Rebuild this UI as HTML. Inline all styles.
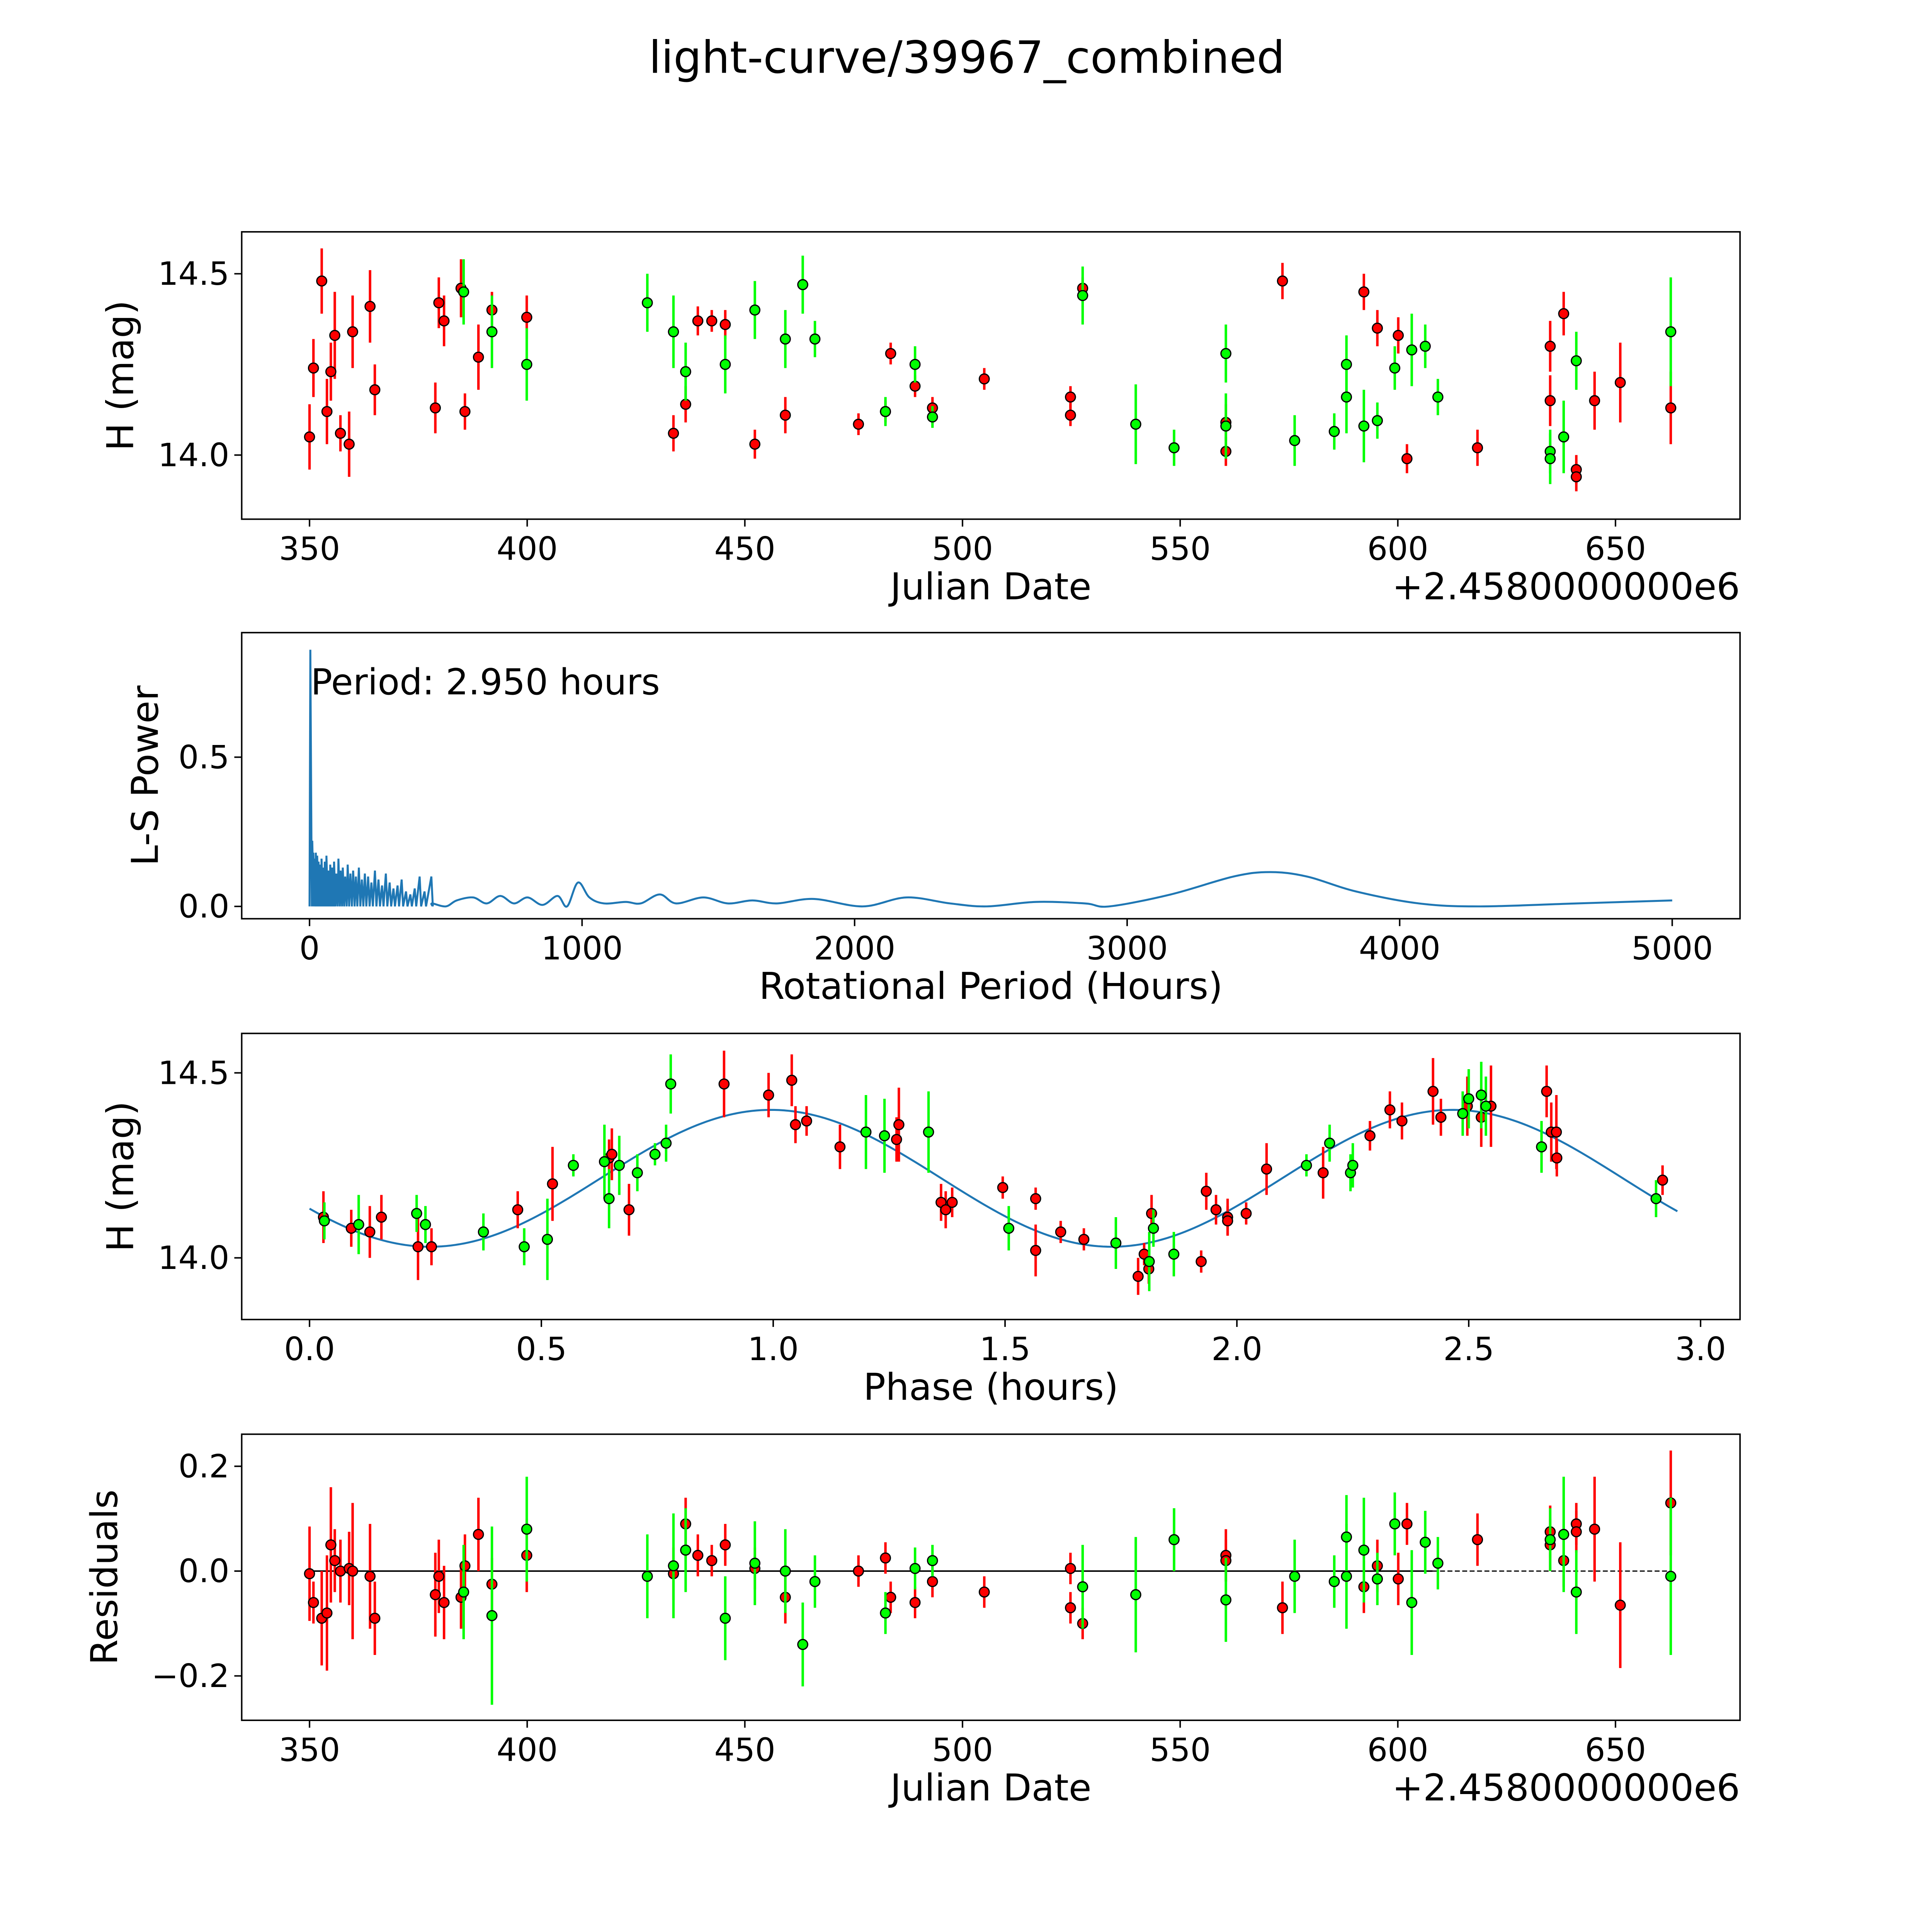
<!DOCTYPE html>
<html><head><meta charset="utf-8"><style>
html,body{margin:0;padding:0;background:#fff;overflow:hidden;width:5400px;height:5400px}
svg{display:block}
text{font-family:"DejaVu Sans","Liberation Sans",sans-serif;fill:#000}
</style></head><body>
<svg id="fig" xmlns="http://www.w3.org/2000/svg" width="5400" height="5400" viewBox="0 0 1692 1692">
<rect width="1692" height="1692" fill="#fff"/>
<text x="784" y="59" font-size="36" text-anchor="middle">light-curve/39967_combined</text>
</svg>
<script>
// ---- data: light curve (Julian Date offset, H mag, error) ----
const redJD = [[350.0,14.05,0.09],[350.9,14.24,0.08],[352.8,14.48,0.09],[354.0,14.12,0.09],[354.9,14.23,0.08],[355.8,14.33,0.12],[357.1,14.06,0.05],[359.1,14.03,0.09],[359.9,14.34,0.1],[363.9,14.41,0.1],[365.0,14.18,0.07],[378.9,14.13,0.07],[379.7,14.42,0.07],[380.9,14.37,0.07],[384.8,14.46,0.08],[385.7,14.12,0.05],[388.8,14.27,0.09],[391.9,14.40,0.05],[399.9,14.38,0.06],[433.6,14.06,0.05],[436.4,14.14,0.05],[439.2,14.37,0.04],[442.4,14.37,0.03],[445.5,14.36,0.04],[452.3,14.03,0.04],[459.3,14.11,0.05],[476.1,14.085,0.03],[482.3,14.12,0.03],[483.5,14.28,0.03],[489.1,14.19,0.03],[493.1,14.13,0.03],[505.0,14.21,0.03],[524.8,14.16,0.03],[524.8,14.11,0.03],[527.6,14.46,0.03],[560.5,14.09,0.05],[560.5,14.01,0.04],[573.5,14.48,0.05],[592.2,14.45,0.05],[595.3,14.35,0.05],[600.1,14.33,0.05],[602.1,13.99,0.04],[618.3,14.02,0.05],[635.0,14.30,0.07],[635.0,14.15,0.07],[638.1,14.39,0.06],[641.0,13.96,0.04],[641.0,13.94,0.04],[645.2,14.15,0.08],[651.1,14.20,0.11],[662.7,14.13,0.1]];
const greenJD = [[385.4,14.45,0.09],[391.9,14.34,0.1],[399.9,14.25,0.1],[427.6,14.42,0.08],[433.6,14.34,0.1],[436.4,14.23,0.08],[445.5,14.25,0.08],[452.3,14.40,0.08],[459.3,14.32,0.08],[463.3,14.47,0.08],[466.1,14.32,0.05],[482.3,14.12,0.04],[489.1,14.25,0.05],[493.1,14.105,0.03],[527.6,14.44,0.08],[539.8,14.085,0.11],[548.6,14.02,0.05],[560.5,14.28,0.08],[560.5,14.08,0.09],[576.3,14.04,0.07],[585.4,14.065,0.05],[588.2,14.25,0.08],[588.2,14.16,0.1],[592.2,14.08,0.1],[595.3,14.095,0.05],[599.3,14.24,0.06],[603.2,14.29,0.1],[606.3,14.30,0.06],[609.2,14.16,0.05],[635.0,14.01,0.06],[635.0,13.99,0.07],[638.1,14.05,0.1],[641.0,14.26,0.08],[662.7,14.34,0.15]];
// ---- residuals ----
const redRes = [[350.0,-0.005,0.09],[350.9,-0.06,0.04],[352.8,-0.09,0.09],[354.0,-0.08,0.11],[354.9,0.05,0.11],[355.8,0.02,0.06],[357.1,0.0,0.06],[359.1,0.005,0.07],[359.9,0.0,0.13],[363.9,-0.01,0.1],[365.0,-0.09,0.07],[378.9,-0.045,0.08],[379.7,-0.01,0.07],[380.9,-0.06,0.07],[384.8,-0.05,0.06],[385.7,0.01,0.06],[388.8,0.07,0.07],[391.9,-0.025,0.05],[399.9,0.03,0.07],[433.6,-0.005,0.05],[436.4,0.09,0.05],[439.2,0.03,0.04],[442.4,0.02,0.03],[445.5,0.05,0.04],[452.3,0.005,0.04],[459.3,-0.05,0.05],[476.1,0.0,0.03],[482.3,0.025,0.03],[483.5,-0.05,0.03],[489.1,-0.06,0.03],[493.1,-0.02,0.03],[505.0,-0.04,0.03],[524.8,0.005,0.03],[524.8,-0.07,0.03],[527.6,-0.10,0.03],[560.5,0.03,0.05],[560.5,0.02,0.04],[573.5,-0.07,0.05],[592.2,-0.03,0.05],[595.3,0.01,0.05],[600.1,-0.015,0.05],[602.1,0.09,0.04],[618.3,0.06,0.05],[635.0,0.075,0.05],[635.0,0.05,0.05],[638.1,0.02,0.05],[641.0,0.09,0.04],[641.0,0.075,0.04],[645.2,0.08,0.1],[651.1,-0.065,0.12],[662.7,0.13,0.1]];
const greenRes = [[385.4,-0.04,0.09],[391.9,-0.085,0.17],[399.9,0.08,0.1],[427.6,-0.01,0.08],[433.6,0.01,0.1],[436.4,0.04,0.08],[445.5,-0.09,0.08],[452.3,0.015,0.08],[459.3,0.0,0.08],[463.3,-0.14,0.08],[466.1,-0.02,0.05],[482.3,-0.08,0.04],[489.1,0.005,0.04],[493.1,0.02,0.03],[527.6,-0.03,0.08],[539.8,-0.045,0.11],[548.6,0.06,0.06],[560.5,-0.055,0.08],[576.3,-0.01,0.07],[585.4,-0.02,0.05],[588.2,0.065,0.08],[588.2,-0.01,0.1],[592.2,0.04,0.1],[595.3,-0.015,0.05],[599.3,0.09,0.06],[603.2,-0.06,0.1],[606.3,0.055,0.06],[609.2,0.015,0.05],[635.0,0.06,0.06],[638.1,0.07,0.11],[641.0,-0.04,0.08],[662.7,-0.01,0.15]];
// ---- phased light curve ----
const redPh = [[0.03,14.11,0.07],[0.09,14.08,0.05],[0.13,14.07,0.07],[0.155,14.11,0.06],[0.234,14.03,0.09],[0.263,14.03,0.05],[0.449,14.13,0.05],[0.524,14.20,0.1],[0.646,14.27,0.05],[0.652,14.28,0.07],[0.689,14.13,0.07],[0.894,14.47,0.09],[0.99,14.44,0.06],[1.04,14.48,0.07],[1.048,14.36,0.05],[1.072,14.37,0.04],[1.144,14.30,0.06],[1.266,14.32,0.06],[1.271,14.36,0.1],[1.362,14.15,0.05],[1.372,14.13,0.05],[1.386,14.15,0.04],[1.495,14.19,0.03],[1.566,14.16,0.03],[1.566,14.02,0.07],[1.62,14.07,0.03],[1.67,14.05,0.03],[1.787,13.95,0.05],[1.80,14.01,0.03],[1.81,13.97,0.04],[1.816,14.12,0.05],[1.923,13.99,0.03],[1.934,14.18,0.05],[1.955,14.13,0.04],[1.98,14.11,0.05],[1.98,14.10,0.04],[2.02,14.12,0.03],[2.064,14.24,0.07],[2.186,14.23,0.07],[2.287,14.33,0.04],[2.33,14.40,0.05],[2.356,14.37,0.05],[2.423,14.45,0.09],[2.44,14.38,0.05],[2.497,14.41,0.08],[2.527,14.38,0.08],[2.548,14.41,0.11],[2.668,14.45,0.07],[2.678,14.34,0.08],[2.689,14.34,0.1],[2.69,14.27,0.05],[2.918,14.21,0.04]];
const greenPh = [[0.032,14.10,0.05],[0.106,14.09,0.08],[0.231,14.12,0.05],[0.25,14.09,0.05],[0.375,14.07,0.05],[0.463,14.03,0.05],[0.513,14.05,0.11],[0.569,14.25,0.03],[0.636,14.26,0.1],[0.646,14.16,0.08],[0.668,14.25,0.08],[0.707,14.23,0.05],[0.745,14.28,0.03],[0.769,14.31,0.05],[0.779,14.47,0.08],[1.20,14.34,0.1],[1.24,14.33,0.1],[1.335,14.34,0.11],[1.508,14.08,0.06],[1.739,14.04,0.07],[1.811,13.99,0.08],[1.82,14.08,0.05],[1.864,14.01,0.06],[2.15,14.25,0.03],[2.2,14.31,0.05],[2.245,14.23,0.05],[2.25,14.25,0.06],[2.487,14.39,0.06],[2.5,14.43,0.08],[2.527,14.44,0.09],[2.537,14.41,0.08],[2.657,14.30,0.07],[2.904,14.16,0.05]];
// model fit parameters: mean, amplitude, phase of min, sub-period
const modelParams = [14.215, 0.185, 0.26, 1.47];
// ---- periodogram ----
const spikePeriods = [2.95,6,10,14,18,23,28,33,38,44,50,56,62,69,76,83,90,98,106,114,122,131,140,150,160,170,181,192,203,215,227,240,253,266,280,294,308,323,338,354,370,386,404,422,447];
const spikePowers = [0.86,0.27,0.22,0.18,0.16,0.18,0.17,0.15,0.14,0.16,0.13,0.15,0.17,0.12,0.14,0.13,0.15,0.11,0.16,0.12,0.13,0.10,0.14,0.11,0.12,0.10,0.13,0.09,0.11,0.10,0.08,0.12,0.09,0.07,0.11,0.08,0.06,0.07,0.09,0.05,0.04,0.06,0.10,0.05,0.10];
const smoothPeriods = [450,500,540,600,650,700,750,800,855,910,945,985,1027,1080,1160,1215,1285,1345,1445,1535,1625,1715,1850,2030,2190,2350,2485,2665,2845,2935,3160,3390,3525,3660,3840,4070,4290,4650,5000];
const smoothPowers = [0.01,0.0,0.02,0.03,0.01,0.035,0.01,0.03,0.005,0.035,0.0,0.08,0.03,0.01,0.015,0.01,0.04,0.01,0.03,0.01,0.02,0.01,0.025,0.0,0.03,0.01,0.0,0.015,0.01,0.0,0.04,0.1,0.115,0.1,0.05,0.01,0.0,0.01,0.02];

const NS='http://www.w3.org/2000/svg';
const svg=document.getElementById('fig');
function el(tag,attrs,parent){const e=document.createElementNS(NS,tag);for(const k in attrs)e.setAttribute(k,attrs[k]);(parent||svg).appendChild(e);return e;}
function lin(d0,d1,r0,r1){return v=>r0+(v-d0)*(r1-r0)/(d1-d0);}
function smoothPath(pts){let d=`M${pts[0][0]},${pts[0][1]}`;
  for(let i=0;i<pts.length-1;i++){const p0=pts[Math.max(0,i-1)],p1=pts[i],p2=pts[i+1],p3=pts[Math.min(pts.length-1,i+2)];
    const c1x=p1[0]+(p2[0]-p0[0])/6,c1y=p1[1]+(p2[1]-p0[1])/6,c2x=p2[0]-(p3[0]-p1[0])/6,c2y=p2[1]-(p3[1]-p1[1])/6;
    d+=` C${c1x},${c1y} ${c2x},${c2y} ${p2[0]},${p2[1]}`;}
  return d;}

function frame(name,x0,y0,x1,y1,xs,ys,xticks,yticks,xlab,ylab,ylabX,offset){
  const g=el('g',{});
  
  
  xticks.forEach(t=>{const x=xs(t.v);
    el('line',{x1:x,y1:y1,x2:x,y2:y1+6,stroke:'#000','stroke-width':1.2},g);
    const tx=el('text',{x:x,y:y1+33,'font-size':26,'text-anchor':'middle'},g);tx.textContent=t.l;
    
    });
  yticks.forEach(t=>{const y=ys(t.v);
    el('line',{x1:x0-6,y1:y,x2:x0,y2:y,stroke:'#000','stroke-width':1.2},g);
    const tx=el('text',{x:x0-10,y:y+9,'font-size':26,'text-anchor':'end'},g);tx.textContent=t.l;
    
    });
  const xl=el('text',{x:(x0+x1)/2,y:y1+65,'font-size':30,'text-anchor':'middle'},g);xl.textContent=xlab;
  
  
  const yl=el('text',{x:ylabX,y:(y0+y1)/2,'font-size':30,'text-anchor':'middle',transform:`rotate(-90 ${ylabX} ${(y0+y1)/2})`},g);yl.textContent=ylab;
  
  
  if(offset){const o=el('text',{x:x1,y:y1+65,'font-size':30,'text-anchor':'end'},g);o.textContent=offset;
    
    }
  return g;
}
function border(x0,y0,x1,y1){const r=el('rect',{x:x0,y:y0,width:x1-x0,height:y1-y0,fill:'none',stroke:'#000','stroke-width':1.2});
  
  }
function points(data,xs,ys,color,name){
  const g=el('g',{});
  
  
  data.forEach(d=>{const x=xs(d[0]);
    const l=el('line',{x1:x,x2:x,y1:ys(d[1]-d[2]),y2:ys(d[1]+d[2]),stroke:color,'stroke-width':2},g);
    
    });
  data.forEach(d=>{const c=el('circle',{cx:xs(d[0]),cy:ys(d[1]),r:4,fill:color,stroke:'#000','stroke-width':1},g);
    
    });
}
const jdTicks=[350,400,450,500,550,600,650].map(v=>({v,l:String(v)}));
const OFF='+2.4580000000e6';

// Panel 1
{const x0=196,y0=188,x1=1411,y1=421;const xs=lin(350,650,251,1310),ys=lin(14.0,14.5,369,222);
 frame('light-curve-panel',x0,y0,x1,y1,xs,ys,jdTicks,[{v:14.0,l:'14.0'},{v:14.5,l:'14.5'}],'Julian Date','H (mag)',108,OFF);
 points(redJD,xs,ys,'#ff0000','red-series');points(greenJD,xs,ys,'#00ff00','green-series');border(x0,y0,x1,y1);}
// Panel 2
{const x0=196,y0=513,x1=1411,y1=745;const xs=lin(0,5000,251,1356),ys=lin(0,0.5,735,614);
 frame('periodogram-panel',x0,y0,x1,y1,xs,ys,[0,1000,2000,3000,4000,5000].map(v=>({v,l:String(v)})),[{v:0,l:'0.0'},{v:0.5,l:'0.5'}],'Rotational Period (Hours)','L-S Power',128,null);
 let d=`M${xs(0)},${ys(0)}`;
 spikePeriods.forEach((p,i)=>{d+=` L${xs(p)},${ys(spikePowers[i])} L${xs(p)+1.2},${ys(0)}`;});
 const pl=el('path',{d,fill:'none',stroke:'#1f77b4','stroke-width':1.6});
 
 
 const sp=smoothPeriods.map((p,i)=>[xs(p),ys(smoothPowers[i])]);
 sp.unshift([xs(spikePeriods[spikePeriods.length-1])+1.2,ys(0)]);
 const pl2=el('path',{d:smoothPath(sp),fill:'none',stroke:'#1f77b4','stroke-width':1.6});
 
 
 const t=el('text',{x:252,y:563,'font-size':29});t.textContent='Period: 2.950 hours';
 
 
 border(x0,y0,x1,y1);}
// Panel 3
{const x0=196,y0=838,x1=1411,y1=1070;const xs=lin(0,3,251,1379),ys=lin(14.0,14.5,1020,870);
 frame('phase-panel',x0,y0,x1,y1,xs,ys,[0,0.5,1,1.5,2,2.5,3].map(v=>({v,l:v.toFixed(1)})),[{v:14.0,l:'14.0'},{v:14.5,l:'14.5'}],'Phase (hours)','H (mag)',108,null);
 let d='';const [m,a,p0,P]=modelParams;
 for(let i=0;i<=300;i++){const p=2.95*i/300;const v=m-a*Math.cos(2*Math.PI*(p-p0)/P);d+=(i?' L':'M')+xs(p)+','+ys(v);}
 const ml=el('path',{d,fill:'none',stroke:'#1f77b4','stroke-width':1.6});
 
 
 points(redPh,xs,ys,'#ff0000','red-phase-series');points(greenPh,xs,ys,'#00ff00','green-phase-series');border(x0,y0,x1,y1);}
// Panel 4
{const x0=196,y0=1163,x1=1411,y1=1395;const xs=lin(350,650,251,1310),ys=lin(0,0.2,1274,1189);
 frame('residuals-panel',x0,y0,x1,y1,xs,ys,jdTicks,[{v:0.2,l:'0.2'},{v:0,l:'0.0'},{v:-0.2,l:'\u22120.2'}],'Julian Date','Residuals',95,OFF);
 const z1=el('line',{x1:xs(350),x2:xs(608),y1:ys(0),y2:ys(0),stroke:'#000','stroke-width':1.2});
 
 
 const z2=el('line',{x1:xs(608),x2:xs(662.7),y1:ys(0),y2:ys(0),stroke:'#000','stroke-width':1,'stroke-dasharray':'4,2'});
 
 
 points(redRes,xs,ys,'#ff0000','red-residuals');points(greenRes,xs,ys,'#00ff00','green-residuals');border(x0,y0,x1,y1);}
</script>
</body></html>
